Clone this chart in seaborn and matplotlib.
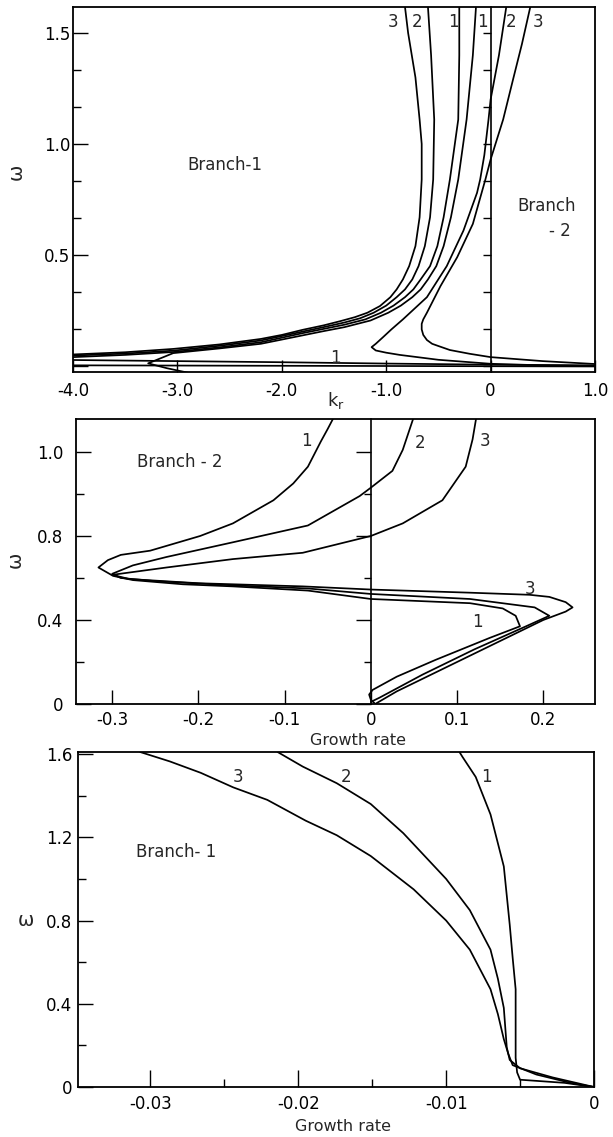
import numpy as np
import pandas as pd
import matplotlib
matplotlib.use("Agg")
import matplotlib.pyplot as plt
import seaborn as sns
from matplotlib.ticker import FixedLocator, FixedFormatter, NullFormatter

# ---------------- Panel 1: omega vs k_r ----------------
p1_b1_3_kr = [-0.82, -0.79, -0.72, -0.68, -0.66, -0.66, -0.68, -0.72, -0.78, -0.84, -0.90, -0.96, -1.06, -1.18, -1.30, -1.44, -1.6, -1.8, -2.0, -2.2, -2.6, -3.04, -3.5, -4.0]
p1_b1_3_w = [1.617, 1.5, 1.3, 1.11, 1.0, 0.84, 0.67, 0.54, 0.45, 0.39, 0.345, 0.31, 0.27, 0.24, 0.22, 0.202, 0.183, 0.163, 0.14, 0.122, 0.097, 0.077, 0.062, 0.052]
p1_b1_2_kr = [-0.60, -0.57, -0.54, -0.55, -0.58, -0.63, -0.69, -0.75, -0.82, -0.90, -1.0, -1.12, -1.25, -1.4, -1.6, -1.8, -2.2, -2.6, -3.04, -3.5, -4.0]
p1_b1_2_w = [1.617, 1.4, 1.11, 0.84, 0.67, 0.54, 0.45, 0.39, 0.345, 0.31, 0.272, 0.24, 0.215, 0.196, 0.175, 0.155, 0.115, 0.091, 0.069, 0.056, 0.047]
p1_b1_1_kr = [-0.30, -0.30, -0.31, -0.39, -0.45, -0.51, -0.58, -0.67, -0.74, -0.82, -0.93, -1.05, -1.2, -1.4, -1.6, -1.8, -2.2, -2.6, -3.04, -3.5, -4.0]
p1_b1_1_w = [1.617, 1.4, 1.11, 0.84, 0.67, 0.54, 0.45, 0.39, 0.345, 0.31, 0.272, 0.24, 0.21, 0.186, 0.167, 0.148, 0.107, 0.084, 0.063, 0.05, 0.04]
p1_b2_1_kr = [-0.14, -0.17, -0.23, -0.31, -0.38, -0.45, -0.52, -0.60, -0.67, -0.75, -0.86, -0.98, -1.15, -1.4, -1.6, -1.8, -2.2, -2.6, -3.04, -3.28, -3.1, -2.9]
p1_b2_1_w = [1.617, 1.4, 1.11, 0.84, 0.67, 0.54, 0.45, 0.39, 0.345, 0.31, 0.272, 0.24, 0.205, 0.175, 0.157, 0.138, 0.1, 0.079, 0.058, 0.012, -0.01, -0.03]
p1_b2_2_kr = [0.15, 0.08, 0.0, -0.02, -0.06, -0.10, -0.13, -0.26, -0.42, -0.61, -0.84, -0.95, -1.03, -1.10, -1.14, -1.10, -1.0, -0.87, -0.5, 0.0, 0.5, 1.0]
p1_b2_2_w = [1.617, 1.4, 1.2, 1.11, 0.95, 0.84, 0.78, 0.61, 0.45, 0.31, 0.21, 0.165, 0.13, 0.10, 0.085, 0.07, 0.06, 0.05, 0.028, 0.01, 0.003, 0.0]
p1_b2_3_kr = [0.38, 0.30, 0.22, 0.12, 0.0, -0.05, -0.17, -0.32, -0.48, -0.61, -0.645, -0.66, -0.66, -0.645, -0.61, -0.56, -0.5, -0.39, -0.2, 0.0, 0.5, 1.0]
p1_b2_3_w = [1.617, 1.45, 1.3, 1.11, 0.93, 0.84, 0.64, 0.49, 0.36, 0.24, 0.21, 0.19, 0.165, 0.14, 0.117, 0.10, 0.09, 0.072, 0.055, 0.04, 0.022, 0.009]
p1_low_kr = [-4.0, -3.0, -2.0, -1.5, -1.0, 0.0, 1.0]
p1_low_w = [0.027, 0.022, 0.017, 0.014, 0.011, 0.006, 0.003]
p1_base_kr = [-4.0, 1.0]
p1_base_w = [0.003, -0.002]

p1_xticks = [-4.0, -3.0, -2.0, -1.0, 0.0, 1.0]
p1_xticklabels = ["-4.0", "-3.0", "-2.0", "-1.0", "0", "1.0"]
p1_yticks = [0.0, 0.5, 1.0, 1.5]
p1_yticklabels = ["", "0.5", "1.0", "1.5"]
p1_yminor = [1/6, 2/6, 4/6, 5/6, 7/6, 8/6]

# ---------------- Panel 2: Branch-2 growth rate ----------------
p2_c1_g = [-0.044, -0.050, -0.058, -0.073, -0.09, -0.113, -0.16, -0.198, -0.256, -0.29, -0.305, -0.316, -0.299, -0.276, -0.218, -0.16, -0.073, 0.0, 0.115, 0.153, 0.168, 0.173, 0.138, 0.075, 0.030, 0.002, -0.002, 0.0, 0.004]
p2_c1_w = [1.357, 1.31, 1.25, 1.13, 1.05, 0.97, 0.86, 0.80, 0.73, 0.71, 0.685, 0.65, 0.61, 0.59, 0.57, 0.56, 0.54, 0.50, 0.48, 0.455, 0.42, 0.37, 0.315, 0.21, 0.13, 0.067, 0.045, 0.02, 0.005]
p2_c2_g = [0.049, 0.037, 0.025, 0.0, -0.013, -0.073, -0.16, -0.237, -0.276, -0.30, -0.29, -0.25, -0.16, -0.073, 0.0, 0.115, 0.19, 0.207, 0.18, 0.12, 0.06, 0.01, 0.0]
p2_c2_w = [1.357, 1.21, 1.11, 1.03, 0.99, 0.85, 0.77, 0.70, 0.66, 0.62, 0.60, 0.585, 0.565, 0.55, 0.524, 0.50, 0.46, 0.42, 0.37, 0.26, 0.14, 0.03, 0.01]
p2_c3_g = [0.122, 0.118, 0.11, 0.083, 0.037, 0.0, -0.079, -0.16, -0.237, -0.30, -0.28, -0.2, -0.079, 0.0, 0.115, 0.184, 0.207, 0.226, 0.234, 0.226, 0.20, 0.15, 0.09, 0.03, 0.005]
p2_c3_w = [1.357, 1.26, 1.13, 0.97, 0.86, 0.80, 0.72, 0.69, 0.65, 0.615, 0.595, 0.575, 0.56, 0.545, 0.53, 0.52, 0.51, 0.485, 0.46, 0.44, 0.40, 0.30, 0.18, 0.06, 0.0]

p2_xticks = [-0.3, -0.2, -0.1, 0.0, 0.1, 0.2]
p2_xticklabels = ["-0.3", "-0.2", "-0.1", "0", "0.1", "0.2"]
p2_yticks = [0.0, 0.4, 0.8, 1.2]
p2_yticklabels = ["0", "0.4", "0.8", "1.0"]
p2_yminor = [0.2, 0.6, 1.0]

# ---------------- Panel 3: Branch-1 growth rate ----------------
p3_c3_g = [-0.0307, -0.0287, -0.0266, -0.0244, -0.0221, -0.0195, -0.0174, -0.0151, -0.0122, -0.0100, -0.0084, -0.0070, -0.0065, -0.0061, -0.0058, -0.0055, -0.0039, -0.0016, 0.0]
p3_c3_w = [1.61, 1.565, 1.51, 1.44, 1.38, 1.28, 1.21, 1.11, 0.95, 0.80, 0.66, 0.47, 0.35, 0.23, 0.16, 0.105, 0.06, 0.02, 0.0]
p3_c2_g = [-0.0214, -0.0197, -0.0174, -0.0151, -0.0129, -0.0100, -0.0084, -0.0070, -0.0065, -0.0061, -0.0059, -0.0057, -0.0050, -0.0028, 0.0]
p3_c2_w = [1.61, 1.54, 1.46, 1.36, 1.22, 1.00, 0.85, 0.66, 0.52, 0.38, 0.19, 0.13, 0.09, 0.046, 0.0]
p3_c1_g = [-0.0091, -0.0089, -0.0080, -0.0070, -0.0061, -0.0059, -0.0057, -0.0055, -0.0053, -0.0053, -0.0052, -0.0050, -0.0040, -0.0020, 0.0]
p3_c1_w = [1.61, 1.587, 1.49, 1.31, 1.06, 0.92, 0.78, 0.62, 0.47, 0.14, 0.07, 0.035, 0.03, 0.02, 0.0]

p3_xticks = [-0.03, -0.02, -0.01, 0.0]
p3_xticklabels = ["-0.03", "-0.02", "-0.01", "0"]
p3_xminor = [-0.025, -0.015, -0.005]
p3_yticks = [0.0, 0.4, 0.8, 1.2, 1.6]
p3_yticklabels = ["0", "0.4", "0.8", "1.2", "1.6"]
p3_yminor = [0.2, 0.6, 1.0, 1.4]


def frame(curves):
    parts = []
    for name, xs, ys in curves:
        parts.append(pd.DataFrame({"curve": name, "x": xs, "y": ys, "i": range(len(xs))}))
    return pd.concat(parts, ignore_index=True)


sns.set_style("white")
plt.rcParams["font.family"] = ["DejaVu Sans"]
plt.rcParams["axes.unicode_minus"] = False
plt.rcParams["mathtext.fontset"] = "dejavusans"

fig = plt.figure(figsize=(6.13, 11.37), dpi=100)
fig.patch.set_facecolor("white")

LW = 1.25
FS = 12


def style_axes(ax, xlim, ylim, xt, xtl, yt, ytl, xminor=None, yminor=None,
               xpad=7, ypad=3, xlen=10, ylen=11):
    ax.set_xlim(*xlim)
    ax.set_ylim(*ylim)
    ax.xaxis.set_major_locator(FixedLocator(xt))
    ax.xaxis.set_major_formatter(FixedFormatter(xtl))
    ax.yaxis.set_major_locator(FixedLocator(yt))
    ax.yaxis.set_major_formatter(FixedFormatter(ytl))
    if xminor:
        ax.xaxis.set_minor_locator(FixedLocator(xminor))
    if yminor:
        ax.yaxis.set_minor_locator(FixedLocator(yminor))
    ax.xaxis.set_minor_formatter(NullFormatter())
    ax.yaxis.set_minor_formatter(NullFormatter())
    ax.tick_params(axis="both", which="both", direction="in", color="black",
                   width=1.0, labelsize=FS, labelcolor="black",
                   bottom=True, left=True, top=False, right=False)
    ax.tick_params(axis="x", which="major", length=xlen, pad=xpad)
    ax.tick_params(axis="y", which="major", length=ylen, pad=ypad)
    ax.tick_params(axis="both", which="minor", length=6)
    for s in ax.spines.values():
        s.set_visible(True)
        s.set_color("black")
        s.set_linewidth(1.3)
    ax.grid(False)
    ax.set_facecolor("white")


def zero_line(ax, yt, yminor, majlen, minlen):
    ax2 = ax.twinx()
    ax2.set_ylim(ax.get_ylim())
    ax2.yaxis.set_major_locator(FixedLocator(yt))
    ax2.yaxis.set_minor_locator(FixedLocator(yminor))
    ax2.yaxis.set_major_formatter(NullFormatter())
    ax2.yaxis.set_minor_formatter(NullFormatter())
    for s in ["left", "top", "bottom"]:
        ax2.spines[s].set_visible(False)
    ax2.spines["right"].set_visible(True)
    ax2.spines["right"].set_position(("data", 0.0))
    ax2.spines["right"].set_color("black")
    ax2.spines["right"].set_linewidth(1.2)
    ax2.tick_params(axis="y", which="both", direction="in", right=True, left=False,
                    labelright=False, color="black", width=1.0)
    ax2.tick_params(axis="y", which="major", length=majlen)
    ax2.tick_params(axis="y", which="minor", length=minlen)
    ax2.grid(False)
    return ax2


# ---------- Panel 1 ----------
ax1 = fig.add_axes([73/613, 1-372/1137, 522/613, 365/1137])
df1 = frame([
    ("b1_3", p1_b1_3_kr, p1_b1_3_w),
    ("b1_2", p1_b1_2_kr, p1_b1_2_w),
    ("b1_1", p1_b1_1_kr, p1_b1_1_w),
    ("b2_1", p1_b2_1_kr, p1_b2_1_w),
    ("b2_2", p1_b2_2_kr, p1_b2_2_w),
    ("b2_3", p1_b2_3_kr, p1_b2_3_w),
    ("low", p1_low_kr, p1_low_w),
    ("base", p1_base_kr, p1_base_w),
])
sns.lineplot(data=df1, x="x", y="y", units="curve", estimator=None, sort=False,
             color="black", linewidth=LW, ax=ax1, legend=False)
style_axes(ax1, (-4.0, 1.0), (-0.027, 1.617), p1_xticks, p1_xticklabels,
           p1_yticks, p1_yticklabels, yminor=p1_yminor, xpad=7, ypad=2, xlen=9, ylen=11)
zero_line(ax1, p1_yticks, p1_yminor, 6, 6)
for s, x, y in [("3", -0.935, 1.55), ("2", -0.70, 1.55), ("1", -0.36, 1.55),
                ("1", -0.08, 1.55), ("2", 0.20, 1.55), ("3", 0.45, 1.55),
                ("1", -1.49, 0.036)]:
    ax1.text(x, y, s, ha="center", va="center", fontsize=FS)
ax1.text(-2.90, 0.905, "Branch-1", ha="left", va="center", fontsize=FS)
ax1.text(0.26, 0.72, "Branch", ha="left", va="center", fontsize=FS)
ax1.text(0.56, 0.61, "- 2", ha="left", va="center", fontsize=FS)
ax1.set_xlabel(r"k$_\mathregular{r}$", fontsize=FS + 1)
ax1.xaxis.set_label_coords(0.504, -0.077)
ax1.xaxis.label.set_va("center")
ax1.set_ylabel("ω", fontsize=FS + 2)
ax1.yaxis.set_label_coords(-0.109, 0.548)
ax1.yaxis.label.set_va("center")

# ---------- Panel 2 ----------
ax2 = fig.add_axes([76/613, 1-704/1137, 519/613, 285/1137])
df2 = frame([
    ("c1", p2_c1_g, p2_c1_w),
    ("c2", p2_c2_g, p2_c2_w),
    ("c3", p2_c3_g, p2_c3_w),
])
sns.lineplot(data=df2, x="x", y="y", units="curve", estimator=None, sort=False,
             color="black", linewidth=LW, ax=ax2, legend=False)
style_axes(ax2, (-0.342, 0.26), (0.0, 1.357), p2_xticks, p2_xticklabels,
           p2_yticks, p2_yticklabels, yminor=p2_yminor, xpad=5, ypad=9, xlen=10, ylen=11)
zero_line(ax2, p2_yticks, p2_yminor, 11, 5)
for s, x, y in [("1", -0.075, 1.25), ("2", 0.057, 1.245), ("3", 0.132, 1.25),
                ("3", 0.185, 0.548), ("1", 0.124, 0.39)]:
    ax2.text(x, y, s, ha="center", va="center", fontsize=FS)
ax2.text(-0.271, 1.152, "Branch - 2", ha="left", va="center", fontsize=FS)
ax2.set_xlabel("Growth rate", fontsize=FS - 0.5)
ax2.xaxis.set_label_coords(0.543, -0.128)
ax2.xaxis.label.set_va("center")
ax2.set_ylabel("ω", fontsize=FS + 2)
ax2.yaxis.set_label_coords(-0.1175, 0.505)
ax2.yaxis.label.set_va("center")

# ---------- Panel 3 ----------
ax3 = fig.add_axes([78/613, 1-1087/1137, 516/613, 335/1137])
df3 = frame([
    ("c3", p3_c3_g, p3_c3_w),
    ("c2", p3_c2_g, p3_c2_w),
    ("c1", p3_c1_g, p3_c1_w),
])
sns.lineplot(data=df3, x="x", y="y", units="curve", estimator=None, sort=False,
             color="black", linewidth=LW, ax=ax3, legend=False)
style_axes(ax3, (-0.0349, 0.0), (0.0, 1.61), p3_xticks, p3_xticklabels,
           p3_yticks, p3_yticklabels, xminor=p3_xminor, yminor=p3_yminor,
           xpad=6, ypad=4, xlen=12, ylen=11)
for s, x, y in [("3", -0.0241, 1.49), ("2", -0.0168, 1.49), ("1", -0.0073, 1.49)]:
    ax3.text(x, y, s, ha="center", va="center", fontsize=FS)
ax3.text(-0.031, 1.13, "Branch- 1", ha="left", va="center", fontsize=FS)
ax3.set_xlabel("Growth rate", fontsize=FS - 0.5)
ax3.xaxis.set_label_coords(0.514, -0.119)
ax3.xaxis.label.set_va("center")
ax3.set_ylabel("ω", fontsize=FS + 2, rotation=0)
ax3.yaxis.set_label_coords(-0.1008, 0.496)
ax3.yaxis.label.set_va("center")
ax3.yaxis.label.set_ha("center")

fig.savefig("out.png", dpi=100, facecolor="white")
